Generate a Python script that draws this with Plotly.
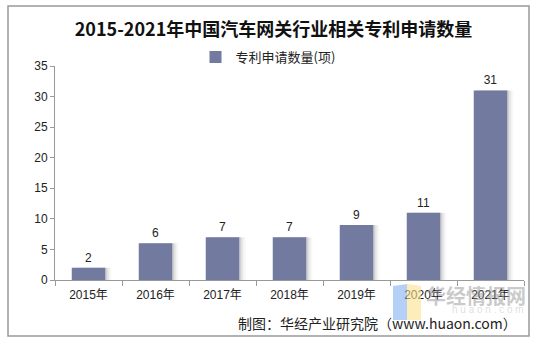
import plotly.graph_objects as go

years = ["2015年", "2016年", "2017年", "2018年", "2019年", "2020年", "2021年"]
patents = [2, 6, 7, 7, 9, 11, 31]
series_name = "专利申请数量(项)"
title_text = "2015-2021年中国汽车网关行业相关专利申请数量"
source_text = "制图：华经产业研究院（www.huaon.com）"

W, H = 547, 342
ml, mr, mt, mb = 55, 23, 66, 62
pw, ph = W - ml - mr, H - mt - mb

def px_x(x):
    return (x - ml) / pw

def px_y(y):
    return (H - mb - y) / ph

fig = go.Figure()
# soft shadow behind bars
for k, a in enumerate([0.10, 0.06, 0.03]):
    fig.add_trace(go.Bar(
        x=years, y=patents, width=0.5, offset=-0.25 + 0.03 * (k + 1),
        marker=dict(color=f"rgba(0,0,0,{a})", line=dict(width=0)),
        showlegend=False, hoverinfo="skip",
    ))
fig.add_trace(go.Bar(
    x=years, y=patents, name=series_name, width=0.5, offset=-0.25,
    marker=dict(color="#727b9f", line=dict(width=0)),
    text=patents, textposition="outside",
    textfont=dict(family="Arial, Liberation Sans", size=12, color="#222"),
    cliponaxis=False,
))

fig.update_layout(
    width=W, height=H,
    margin=dict(l=ml, r=mr, t=mt, b=mb),
    paper_bgcolor="white", plot_bgcolor="white",
    barmode="overlay",
    font=dict(family="Liberation Sans, Arial, Noto Sans CJK SC", size=12, color="#222"),
    title=dict(text=title_text, x=0.5, xanchor="center", y=1 - 30 / H, yanchor="middle",
               font=dict(family="Noto Sans CJK SC", size=18, color="#111", weight="bold")),
    showlegend=True,
    legend=dict(orientation="h", x=px_x(268), xanchor="center", y=px_y(57), yanchor="middle",
                font=dict(family="Noto Sans CJK SC", size=13, color="#222"),
                itemwidth=30, bgcolor="rgba(0,0,0,0)"),
    xaxis=dict(showline=True, linecolor="#999", linewidth=1,
               ticks="outside", ticklen=5, tickcolor="#999", tickson="boundaries",
               ticklabelstandoff=4,
               showgrid=False, tickfont=dict(family="Liberation Sans, Noto Sans CJK SC", size=12, color="#222")),
    yaxis=dict(range=[0, 35], dtick=5, showline=True, linecolor="#999", linewidth=1,
               ticks="outside", ticklen=4, tickcolor="#999", showgrid=False, zeroline=False,
               tickfont=dict(family="Liberation Sans, Arial", size=12, color="#222")),
    shapes=[
        dict(type="rect", xref="paper", yref="paper",
             x0=px_x(8), x1=px_x(529), y0=px_y(336), y1=px_y(6),
             line=dict(color="#999", width=1.5), fillcolor="rgba(0,0,0,0)", layer="below"),
        dict(type="path", xref="paper", yref="paper",
             path=f"M {px_x(393)},{px_y(320)} L {px_x(393)},{px_y(286)} L {px_x(407)},{px_y(284)} L {px_x(407)},{px_y(320)} Z",
             fillcolor="rgba(120,170,240,0.55)", line=dict(width=0), layer="above"),
        dict(type="path", xref="paper", yref="paper",
             path=f"M {px_x(407)},{px_y(320)} L {px_x(407)},{px_y(284)} L {px_x(421)},{px_y(286)} L {px_x(421)},{px_y(320)} Z",
             fillcolor="rgba(250,225,140,0.6)", line=dict(width=0), layer="above"),
    ],
    annotations=[
        dict(text="华经情报网", xref="paper", yref="paper", x=px_x(528), y=px_y(295),
             xanchor="right", yanchor="middle", showarrow=False,
             font=dict(family="Noto Sans CJK SC", size=20, color="rgba(150,150,150,0.5)", weight="bold")),
        dict(text="h u a o n . c o m", xref="paper", yref="paper", x=px_x(526), y=px_y(309),
             xanchor="right", yanchor="middle", showarrow=False,
             font=dict(family="Liberation Sans", size=10, color="rgba(170,170,170,0.4)")),
        dict(text=source_text, xref="paper", yref="paper", x=px_x(519), y=px_y(323),
             xanchor="right", yanchor="middle", showarrow=False,
             font=dict(family="Noto Sans CJK SC", size=14, color="#222")),
    ],
)

fig.write_html("out.html")
